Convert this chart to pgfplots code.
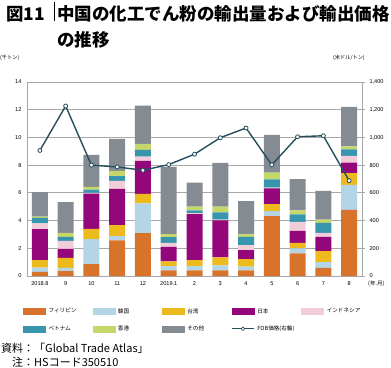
\documentclass[border=0pt]{standalone}
\usepackage{pgfplots}
\pgfplotsset{compat=1.18}
\usepackage{fontspec}
\setmainfont{Noto Sans CJK JP}
\newfontfamily\cjk{Noto Sans CJK JP}
\newfontfamily\arial{Liberation Sans}
\definecolor{c1}{HTML}{D8732B}
\definecolor{c2}{HTML}{B4D5E6}
\definecolor{c3}{HTML}{EDBA1D}
\definecolor{c4}{HTML}{93077B}
\definecolor{c5}{HTML}{F0CDD8}
\definecolor{c6}{HTML}{3895AE}
\definecolor{c7}{HTML}{C5D769}
\definecolor{c8}{HTML}{858B93}
\definecolor{cl}{HTML}{254E5D}
\definecolor{gridc}{HTML}{A8A8A8}
\begin{document}
\begin{tikzpicture}
\useasboundingbox (0pt,0pt) rectangle (391pt,-367pt);
% title
\node[anchor=west,inner sep=0pt,font=\fontsize{17.4}{18}\selectfont\bfseries] at (6pt,-14pt) {図11};
\draw[line width=0.8pt] (54.5pt,-2pt) -- (54.5pt,-21pt);
\node[anchor=west,inner sep=0pt,font=\fontsize{17.5}{18}\selectfont\bfseries] at (57pt,-14pt) {中国の化工でん粉の輸出量および輸出価格};
\node[anchor=west,inner sep=0pt,font=\fontsize{17.5}{18}\selectfont\bfseries] at (57pt,-40pt) {の推移};
% units
\node[anchor=west,inner sep=0pt,font=\fontsize{5.2}{6}\selectfont] at (0pt,-58pt) {(千トン)};
\node[anchor=west,inner sep=0pt,font=\fontsize{5.2}{6}\selectfont] at (333pt,-58pt) {(米ドル/トン)};
\node[anchor=west,inner sep=0pt,font=\fontsize{5.5}{6}\selectfont] at (368pt,-284pt) {(年.月)};
% source
\node[anchor=west,inner sep=0pt,font=\fontsize{11}{12}\selectfont] at (1pt,-348pt) {資料：「Global Trade Atlas」};
\node[anchor=west,inner sep=0pt,font=\fontsize{11}{12}\selectfont] at (12pt,-362pt) {注：HSコード350510};

\begin{axis}[
  at={(27pt,-276pt)}, anchor=south west,
  width=335pt, height=194pt, scale only axis,
  xmin=-0.5, xmax=12.5, ymin=0, ymax=14,
  ybar stacked, bar width=16pt,
  xtick={0,...,12},
  xticklabels={2018.8,9,10,11,12,2019.1,2,3,4,5,6,7,8},
  major x tick style={draw=none},
  ytick={0,2,...,14},
  ytick style={draw=none},
  ymajorgrids, grid style={gridc, line width=0.8pt},
  axis x line*=bottom, axis y line*=left,
  axis line style={gridc, line width=0.8pt, -},
  tick label style={font=\arial\fontsize{5.6}{6}\selectfont},
  /pgf/number format/assume math mode=true,
  yticklabel style={xshift=-2pt},
  xticklabel style={yshift=-2pt},
]
\addplot[fill=c1, draw=none, forget plot] coordinates {(0,0.30) (1,0.36) (2,0.85) (3,2.58) (4,3.09) (5,0.41) (6,0.41) (7,0.41) (8,0.41) (9,4.32) (10,1.64) (11,0.58) (12,4.78)};
\addplot[fill=c2, draw=none, forget plot] coordinates {(0,0.30) (1,0.22) (2,1.81) (3,0.29) (4,2.15) (5,0.31) (6,0.31) (7,0.36) (8,0.27) (9,0.37) (10,0.36) (11,0.43) (12,1.79)};
\addplot[fill=c3, draw=none, forget plot] coordinates {(0,0.54) (1,0.72) (2,0.74) (3,0.80) (4,0.68) (5,0.34) (6,0.42) (7,0.58) (8,0.53) (9,0.50) (10,0.39) (11,0.78) (12,0.85)};
\addplot[fill=c4, draw=none, forget plot] coordinates {(0,2.24) (1,0.66) (2,2.54) (3,2.61) (4,2.39) (5,1.04) (6,3.33) (7,2.66) (8,0.65) (9,1.14) (10,0.87) (11,1.04) (12,0.77)};
\addplot[fill=c5, draw=none, forget plot] coordinates {(0,0.41) (1,0.58) (2,0.05) (3,0.58) (4,0.31) (5,0.29) (6,0.07) (7,0.05) (8,0.36) (9,0.05) (10,0.65) (11,0.29) (12,0.48)};
\addplot[fill=c6, draw=none, forget plot] coordinates {(0,0.41) (1,0.29) (2,0.24) (3,0.34) (4,0.48) (5,0.41) (6,0.19) (7,0.53) (8,0.61) (9,0.60) (10,0.53) (11,0.72) (12,0.46)};
\addplot[fill=c7, draw=none, forget plot] coordinates {(0,0.08) (1,0.29) (2,0.20) (3,0.38) (4,0.44) (5,0.22) (6,0.27) (7,0.41) (8,0.17) (9,0.48) (10,0.29) (11,0.22) (12,0.22)};
\addplot[fill=c8, draw=none, forget plot] coordinates {(0,1.78) (1,2.22) (2,2.31) (3,2.32) (4,2.75) (5,4.85) (6,1.74) (7,3.16) (8,2.41) (9,2.73) (10,2.27) (11,2.08) (12,2.85)};
\end{axis}

\begin{axis}[
  at={(27pt,-276pt)}, anchor=south west,
  width=335pt, height=194pt, scale only axis,
  xmin=-0.5, xmax=12.5, ymin=0, ymax=1400,
  axis x line=none, axis y line*=right,
  axis line style={gridc, line width=0.8pt, -},
  ytick={0,200,...,1400},
  tick align=outside, major tick length=3pt,
  ytick style={gridc, line width=0.8pt},
  tick label style={font=\arial\fontsize{5.6}{6}\selectfont},
  /pgf/number format/assume math mode=true,
  yticklabel style={/pgf/number format/1000 sep={,}, xshift=1pt},
  legend columns=5,
  legend style={at={(-0.012,-0.165)}, anchor=north west, draw=none, fill=none,
    font=\fontsize{5.6}{6}\selectfont, inner sep=0pt, row sep=11pt,
    /tikz/every odd column/.append style={column sep=3pt},
    nodes={inner sep=0pt}},
  legend cell align=left,
]
\addlegendimage{legend image code/.code={\fill[c1] (0pt,-3pt) rectangle (22pt,3pt);}}
\addlegendentry{\makebox[44pt][l]{フィリピン}}
\addlegendimage{legend image code/.code={\fill[c2] (0pt,-3pt) rectangle (22pt,3pt);}}
\addlegendentry{\makebox[44pt][l]{韓国}}
\addlegendimage{legend image code/.code={\fill[c3] (0pt,-3pt) rectangle (22pt,3pt);}}
\addlegendentry{\makebox[44pt][l]{台湾}}
\addlegendimage{legend image code/.code={\fill[c4] (0pt,-3pt) rectangle (22pt,3pt);}}
\addlegendentry{\makebox[44pt][l]{日本}}
\addlegendimage{legend image code/.code={\fill[c5] (0pt,-3pt) rectangle (22pt,3pt);}}
\addlegendentry{\makebox[44pt][l]{インドネシア}}
\addlegendimage{legend image code/.code={\fill[c6] (0pt,-3pt) rectangle (22pt,3pt);}}
\addlegendentry{\makebox[44pt][l]{ベトナム}}
\addlegendimage{legend image code/.code={\fill[c7] (0pt,-3pt) rectangle (22pt,3pt);}}
\addlegendentry{\makebox[44pt][l]{香港}}
\addlegendimage{legend image code/.code={\fill[c8] (0pt,-3pt) rectangle (22pt,3pt);}}
\addlegendentry{\makebox[44pt][l]{その他}}
\addplot[cl, line width=1.4pt, mark=*, mark size=2pt, mark options={fill=white, draw=cl, line width=0.8pt},
  legend image code/.code={\draw[cl, line width=1pt] (0pt,0pt) -- (22pt,0pt); \draw[cl, fill=white, line width=0.6pt] (11pt,0pt) circle (1.8pt);}]
  coordinates {(0,906) (1,1227) (2,800) (3,787) (4,763) (5,804) (6,879) (7,998) (8,1068) (9,802) (10,1005) (11,1012) (12,688)};
\addlegendentry{FOB価格(右軸)}
\end{axis}
\end{tikzpicture}
\end{document}
